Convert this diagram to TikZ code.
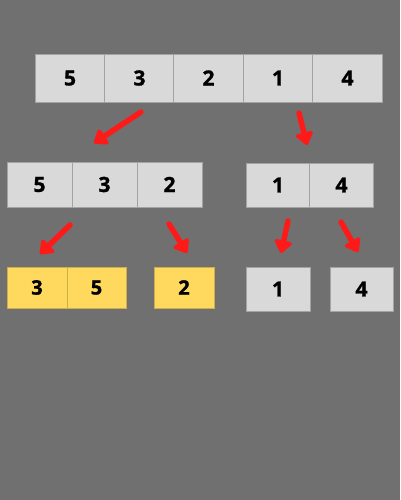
\documentclass[tikz,border=0pt]{standalone}
\usepackage{fontspec}
\setmainfont{Open Sans}[BoldFeatures={FakeBold=1.3}]
\usetikzlibrary{arrows.meta}
\definecolor{bg}{HTML}{707070}
\definecolor{cellgray}{HTML}{D9D9D9}
\definecolor{cellyel}{HTML}{FFD95E}
\definecolor{edge}{HTML}{A3A3A3}
\definecolor{arr}{HTML}{FF1A1A}
\tikzset{
  cell/.style={draw=edge, line width=0.8pt, fill=cellgray, inner sep=0pt,
    font=\fontsize{21}{23}\selectfont\bfseries, text=black},
  ycell/.style={cell, fill=cellyel, draw=cellyel!80!black,
    font=\fontsize{20}{22}\selectfont\bfseries},
  redarrow/.style={draw=arr, line width=5.5pt, line cap=round,
    -{Triangle[length=14pt,width=20pt,round]}},
}
\begin{document}
\begin{tikzpicture}[x=1pt,y=-1pt]
\fill[bg] (0,0) rectangle (400,500);
\useasboundingbox (0,0) rectangle (400,500);
% top row
\foreach \n/\x/\t in {a/70/5,b/139.5/3,c/208.5/2,d/278/1,e/347.5/4}
  \node[cell, minimum width=69.4pt, minimum height=48pt] (t\n) at (\x,78) {\t};
% second row
\foreach \n/\x/\t in {a/39.5/5,b/104.5/3,c/169.5/2}
  \node[cell, minimum width=65pt, minimum height=45pt] (l\n) at (\x,184.5) {\t};
\foreach \n/\x/\t in {a/278/1,b/341.5/4}
  \node[cell, minimum width=63.5pt, minimum height=44pt] (r\n) at (\x,185) {\t};
% third row
\node[ycell, minimum width=60pt, minimum height=41pt] (y1) at (37,287.5) {3};
\node[ycell, minimum width=59pt, minimum height=41pt] (y2) at (96.5,287.5) {5};
\node[ycell, minimum width=60pt, minimum height=41pt] (y3) at (184,287.5) {2};
\node[cell, minimum width=64pt, minimum height=44pt] (g1) at (278,289) {1};
\node[cell, minimum width=63pt, minimum height=44pt] (g2) at (361.5,289) {4};
% arrow endpoints
\coordinate (a1s) at (141,112);
\coordinate (a1e) at (94,143);
\coordinate (a2s) at (299,113);
\coordinate (a2e) at (307,145);
\coordinate (a3s) at (70,225);
\coordinate (a3e) at (40,254);
\coordinate (a4s) at (169,224);
\coordinate (a4e) at (187,253);
\coordinate (a5s) at (288,221);
\coordinate (a5e) at (281,253);
\coordinate (a6s) at (341,222);
\coordinate (a6e) at (358,252);
\foreach \i in {1,...,6}
  \draw[redarrow] (a\i s) -- (a\i e);
\end{tikzpicture}
\end{document}
